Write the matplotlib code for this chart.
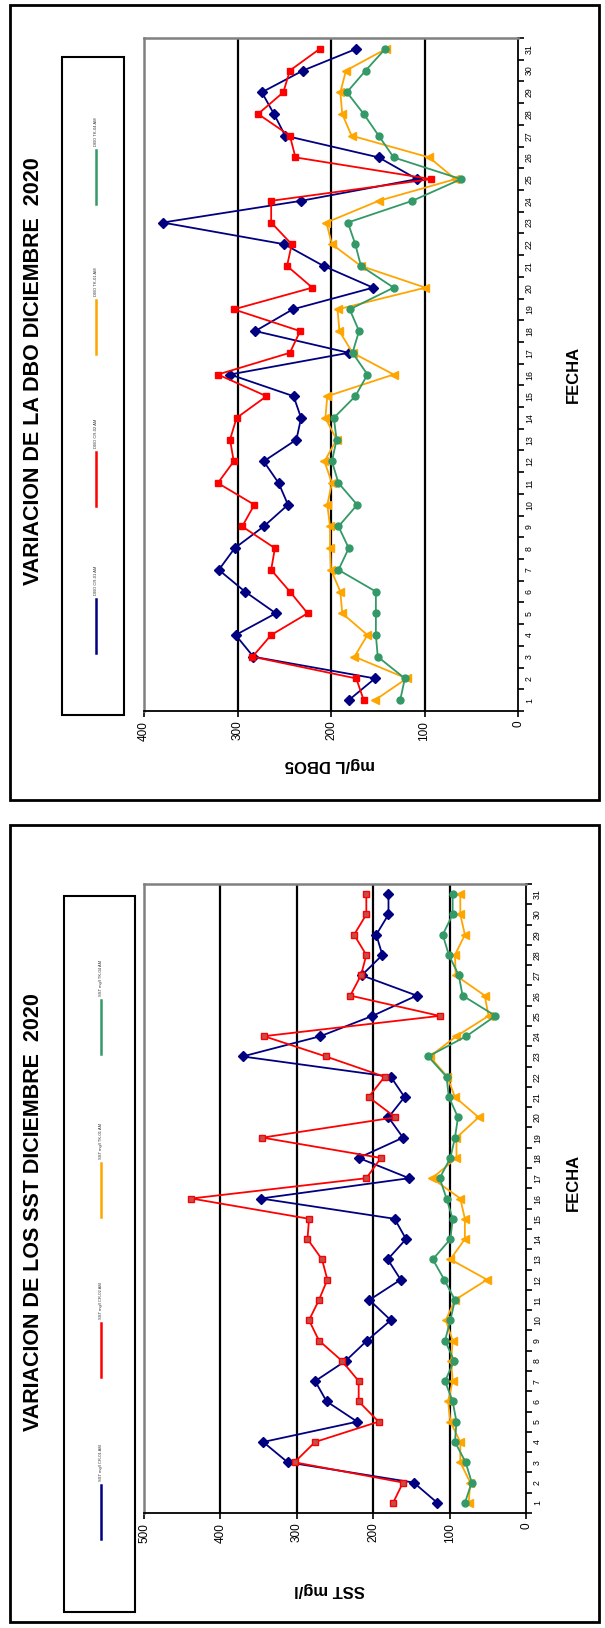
import numpy as np
import matplotlib
matplotlib.use("Agg")
import matplotlib.pyplot as plt
from matplotlib.patches import Rectangle
from matplotlib.lines import Line2D

plt.rcParams['font.family'] = ['Liberation Sans', 'DejaVu Sans']

W, H = 605, 1628

days = list(range(1, 32))

# SST mg/l por punto de muestreo
sst_cr01 = [116, 147, 312, 344, 221, 261, 276, 236, 208, 177, 205, 164, 181, 157, 172, 347,
            153, 219, 161, 180, 159, 177, 371, 269, 201, 143, 215, 188, 196, 180, 180]
sst_cr02 = [174, 161, 303, 276, 193, 219, 219, 241, 271, 284, 271, 260, 267, 286, 284, 438,
            209, 190, 345, 171, 206, 185, 262, 343, 113, 230, 216, 209, 225, 209, 209]
sst_tk01 = [75, 73, 86, 86, 99, 102, 96, 98, 96, 105, 93, 51, 99, 80, 80, 86,
            123, 91, 91, 62, 93, 103, 126, 91, 49, 54, 92, 93, 80, 86, 86]
sst_tk04 = [80, 71, 79, 93, 91, 96, 106, 94, 106, 99, 93, 107, 122, 99, 96, 104,
            113, 99, 93, 89, 101, 104, 128, 78, 40, 83, 88, 101, 109, 96, 96]

# DBO5 mg/L por punto de muestreo
dbo_cr01 = [181, 153, 283, 302, 259, 292, 320, 303, 272, 246, 256, 272, 237, 232, 240, 308,
            181, 281, 241, 155, 208, 250, 380, 232, 108, 149, 249, 261, 274, 230, 173]
dbo_cr02 = [165, 173, 284, 264, 225, 244, 264, 260, 295, 282, 321, 304, 308, 301, 269, 321,
            244, 233, 304, 220, 247, 242, 264, 264, 93, 238, 244, 278, 251, 244, 212]
dbo_tk01 = [153, 119, 175, 161, 188, 190, 200, 201, 201, 204, 199, 207, 194, 206, 204, 133,
            177, 191, 193, 99, 168, 199, 205, 149, 67, 95, 178, 188, 190, 184, 141]
dbo_tk04 = [126, 121, 150, 152, 152, 152, 192, 181, 192, 172, 192, 199, 194, 197, 174, 161,
            177, 170, 180, 133, 168, 174, 182, 113, 61, 133, 149, 165, 183, 163, 142]

sst_labels = ['SST mg/l CR-01 AM', 'SST mg/l CR-02 AM', 'SST mg/l TK-01 AM', 'SST mg/l TK-04 AM']
dbo_labels = ['DBO CR-01 AM', 'DBO CR-02 AM', 'DBO TK-01 AM', 'DBO TK-04 AM']

NAVY = '#000080'
RED = '#FF0000'
ORANGE = '#FFA500'
GREEN = '#339966'


def fx(x):
    return x / W


def fy(y):
    return 1 - y / H


def rect(x0, y0, x1, y1):
    return [fx(x0), fy(y1), (x1 - x0) / W, (y1 - y0) / H]


def frame(x0, y0, x1, y1, lw=2.0):
    fig.add_artist(Rectangle((fx(x0), fy(y1)), (x1 - x0) / W, (y1 - y0) / H,
                             transform=fig.transFigure, fill=False,
                             edgecolor='black', linewidth=lw))


def legend_column(x, x0, y0, x1, y1, items):
    frame(x0, y0, x1, y1, lw=1.5)
    for (label, color, ystart) in items:
        fig.add_artist(Line2D([fx(x), fx(x)], [fy(ystart), fy(ystart + 54)],
                              transform=fig.transFigure, color=color, lw=1.8))
        fig.text(fx(x), fy(ystart - 4), label, rotation=90, ha='center', va='bottom',
                 fontsize=3, color='#333333')


def chart(ax, vmax, series, red_face):
    ax.set_xlim(vmax, 0)
    ax.set_ylim(0.5, 31.5)
    for v in range(100, vmax, 100):
        ax.axvline(v, color='black', lw=1.6, zorder=1)

    a, b, c, d = series
    ax.plot(a, days, color=NAVY, lw=1.3, marker='D', ms=5, mfc=NAVY, mec=NAVY, zorder=3)
    ax.plot(b, days, color=RED, lw=1.3, marker='s', ms=5, mfc=red_face, mec=RED, zorder=3)
    ax.plot(c, days, color=ORANGE, lw=1.3, marker='<', ms=6, mfc=ORANGE, mec=ORANGE, zorder=3)
    ax.plot(d, days, color=GREEN, lw=1.3, marker='o', ms=5, mfc=GREEN, mec=GREEN, zorder=3)

    for side in ['left', 'top']:
        ax.spines[side].set_color('#808080')
        ax.spines[side].set_linewidth(1.8)
    for side in ['right', 'bottom']:
        ax.spines[side].set_color('black')
        ax.spines[side].set_linewidth(1.3)

    ax.set_xticks(range(0, vmax + 1, 100))
    ax.set_xticklabels([str(v) for v in range(0, vmax + 1, 100)], rotation=90, fontsize=8.5)
    ax.tick_params(axis='x', direction='out', length=4, width=1.2, pad=3)

    ax.yaxis.tick_right()
    ax.set_yticks(days)
    ax.set_yticklabels([str(d) for d in days], rotation=90, fontsize=6.3, va='center')
    ax.set_yticks(np.arange(0.5, 32, 1), minor=True)
    ax.tick_params(axis='y', which='major', length=0, pad=5)
    ax.tick_params(axis='y', which='minor', direction='out', length=4, width=1.2)


fig = plt.figure(figsize=(W / 100, H / 100), dpi=100)

# --- DBO5 ---
frame(10, 5, 599, 800)
ax1 = fig.add_axes(rect(144, 38, 518, 711))
chart(ax1, 400, [dbo_cr01, dbo_cr02, dbo_tk01, dbo_tk04], RED)
fig.text(fx(34), fy(371), 'VARIACION DE LA DBO DICIEMBRE  2020', rotation=90,
         ha='center', va='center', fontsize=15.5, fontweight='bold')
fig.text(fx(573), fy(374), 'FECHA', rotation=90, ha='center', va='center',
         fontsize=12, fontweight='bold')
fig.text(fx(330), fy(764), 'mg/L DBO5', rotation=180, ha='center', va='center',
         fontsize=12, fontweight='bold')
legend_column(96, 62, 57, 124, 715,
              [(dbo_labels[3], GREEN, 150), (dbo_labels[2], ORANGE, 300),
               (dbo_labels[1], RED, 452), (dbo_labels[0], NAVY, 599)])

# --- SST ---
frame(10, 825, 599, 1622)
ax2 = fig.add_axes(rect(144, 884, 526, 1513))
chart(ax2, 500, [sst_cr01, sst_cr02, sst_tk01, sst_tk04], '#C0504D')
fig.text(fx(34), fy(1212), 'VARIACION DE LOS SST DICIEMBRE  2020', rotation=90,
         ha='center', va='center', fontsize=15.5, fontweight='bold')
fig.text(fx(573), fy(1182), 'FECHA', rotation=90, ha='center', va='center',
         fontsize=12, fontweight='bold')
fig.text(fx(330), fy(1590), 'SST mg/l', rotation=180, ha='center', va='center',
         fontsize=12, fontweight='bold')
legend_column(101, 64, 896, 135, 1612,
              [(sst_labels[3], GREEN, 1000), (sst_labels[2], ORANGE, 1163),
               (sst_labels[1], RED, 1323), (sst_labels[0], NAVY, 1485)])

fig.savefig('out.png', dpi=100)
